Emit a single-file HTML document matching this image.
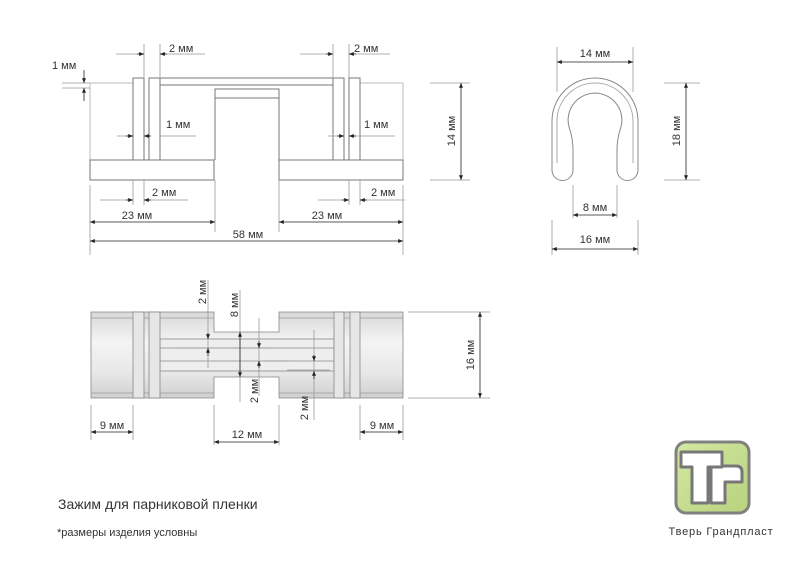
<!DOCTYPE html>
<html><head><meta charset="utf-8"><style>
html,body{margin:0;padding:0;background:#fff}
svg text{font-family:"Liberation Sans","DejaVu Sans",sans-serif;fill:#333}
</style></head><body>
<svg width="800" height="565" viewBox="0 0 800 565" xmlns="http://www.w3.org/2000/svg">
<defs>
<marker id="a" viewBox="0 0 6 6" refX="6" refY="3" markerWidth="6" markerHeight="6" orient="auto-start-reverse"><path d="M0,0.5L6,3L0,5.5z" fill="#222"/></marker>
<linearGradient id="g" x1="0" y1="0" x2="0" y2="1"><stop offset="0" stop-color="#d8d8d8"/><stop offset="0.35" stop-color="#f4f4f4"/><stop offset="0.7" stop-color="#e8e8e8"/><stop offset="1" stop-color="#d0d0d0"/></linearGradient>
<linearGradient id="lg" x1="0" y1="0" x2="1" y2="1"><stop offset="0" stop-color="#d3e8a2"/><stop offset="1" stop-color="#b8d27e"/></linearGradient>
</defs>
<g fill="none" stroke="#777" stroke-width="1">
<path d="M90,83V160M403,83V160M90,83H133M360,83H403" stroke="#bbb"/>
<rect x="90" y="160" width="124" height="20" fill="#fff"/>
<rect x="279" y="160" width="124" height="20" fill="#fff"/>
<rect x="133" y="78" width="11" height="82" fill="#fff"/>
<rect x="149" y="78" width="11" height="82" fill="#fff"/>
<rect x="333" y="78" width="11" height="82" fill="#fff"/>
<rect x="349" y="78" width="11" height="82" fill="#fff"/>
<rect x="160" y="78" width="173" height="7" fill="#fff"/>
<rect x="215" y="89" width="64" height="9" fill="#fff"/>
<path d="M215,98V160M279,98V160"/>
</g>
<g fill="none" stroke="#999" stroke-width="0.8">
<path d="M90,185V255M403,185V255M215,180V232M279,180V232M133,180V205M144,180V205M349,180V205M360,180V205"/>
<path d="M144,44V78M160,44V78M333,44V78M349,44V78"/>
<path d="M62,83H90M62,88H90"/>
<path d="M430,83H470M430,180H470"/>
<path d="M116,54H144M160,54H205M300,54H333M349,54H390"/>
<path d="M117,136H133M160,136H196M328,136H344M349,136H395"/>
<path d="M100,200H133M144,200H188M318,200H349M360,200H405"/>
</g>
<g stroke="#222" stroke-width="0.8" fill="none">
<path d="M137,54H144" marker-end="url(#a)"/><path d="M167,54H160" marker-end="url(#a)"/>
<path d="M326,54H333" marker-end="url(#a)"/><path d="M356,54H349" marker-end="url(#a)"/>
<path d="M126,136H133" marker-end="url(#a)"/><path d="M151,136H144" marker-end="url(#a)"/>
<path d="M337,136H344" marker-end="url(#a)"/><path d="M356,136H349" marker-end="url(#a)"/>
<path d="M126,200H133" marker-end="url(#a)"/><path d="M151,200H144" marker-end="url(#a)"/>
<path d="M342,200H349" marker-end="url(#a)"/><path d="M367,200H360" marker-end="url(#a)"/>
<path d="M84,70V83" marker-end="url(#a)"/><path d="M84,101V88" marker-end="url(#a)"/>
<path d="M90,222H215" marker-start="url(#a)" marker-end="url(#a)"/>
<path d="M279,222H403" marker-start="url(#a)" marker-end="url(#a)"/>
<path d="M90,241H403" marker-start="url(#a)" marker-end="url(#a)"/>
<path d="M461,83V180" marker-start="url(#a)" marker-end="url(#a)"/>
</g>
<g font-size="11">
<text x="52" y="69">1 мм</text>
<text x="169" y="52">2 мм</text>
<text x="354" y="52">2 мм</text>
<text x="166" y="128">1 мм</text>
<text x="364" y="128">1 мм</text>
<text x="152" y="196">2 мм</text>
<text x="371" y="196">2 мм</text>
<text x="137" y="219" text-anchor="middle">23 мм</text>
<text x="327" y="219" text-anchor="middle">23 мм</text>
<text x="248" y="238" text-anchor="middle">58 мм</text>
<text transform="translate(455,131) rotate(-90)" text-anchor="middle">14 мм</text>
</g>
<!-- side profile -->
<g fill="#fff" stroke="#888" stroke-width="1">
<path d="M552,170V121A43,43 0 0 1 638,121V170A10.5,10.5 0 0 1 617,170V150Q617,140 620,130A26.9,26.9 0 1 0 570,130Q573,140 573,150V170A10.5,10.5 0 0 1 552,170Z"/>
<path d="M557,163V121A38,38 0 0 1 633,121V163" fill="none" stroke="#aaa"/>
</g>
<g fill="none" stroke="#999" stroke-width="0.8">
<path d="M557,47V92M633,47V92M573,185V218M617,185V218M552,220V255M638,220V255M664,83H700M664,180H700"/>
</g>
<g stroke="#222" stroke-width="0.8" fill="none">
<path d="M557,62H633" marker-start="url(#a)" marker-end="url(#a)"/>
<path d="M573,215H617" marker-start="url(#a)" marker-end="url(#a)"/>
<path d="M552,249H638" marker-start="url(#a)" marker-end="url(#a)"/>
<path d="M686,83V180" marker-start="url(#a)" marker-end="url(#a)"/>
</g>
<g font-size="11">
<text x="595" y="57" text-anchor="middle">14 мм</text>
<text x="595" y="211" text-anchor="middle">8 мм</text>
<text x="595" y="243" text-anchor="middle">16 мм</text>
<text transform="translate(680,131) rotate(-90)" text-anchor="middle">18 мм</text>
</g>
<!-- bottom view -->
<g stroke="#888" stroke-width="0.8">
<path d="M91,312H214V332H279V312H403V398H279V377H214V398H91Z" fill="url(#g)"/>
<path d="M91,318H214M279,318H403M91,393H214M279,393H403" fill="none" stroke="#999"/>
<rect x="160" y="339" width="174" height="32" fill="#eee"/>
<path d="M160,348H334M160,361H334" fill="none"/>
<rect x="133" y="312" width="11" height="86" fill="#e6e6e6"/>
<rect x="149" y="312" width="11" height="86" fill="#e6e6e6"/>
<rect x="334" y="312" width="10" height="86" fill="#e6e6e6"/>
<rect x="350" y="312" width="10" height="86" fill="#e6e6e6"/>
</g>
<g fill="none" stroke="#999" stroke-width="0.8">
<path d="M208,280V368M240,290V402M259,318V396M314,330V420M183,339H222M232,348H272M178,348H210M265,361H290M287,370H330"/>
<path d="M91,405V440M133,405V440M214,405V445M279,405V445M360,405V440M403,405V440M408,312H490M408,398H490"/>
</g>
<g stroke="#222" stroke-width="0.8" fill="none">
<path d="M208,333V339" marker-end="url(#a)"/><path d="M208,356V348" marker-end="url(#a)"/>
<path d="M259,341V348" marker-end="url(#a)"/><path d="M259,368V361" marker-end="url(#a)"/>
<path d="M314,355V361" marker-end="url(#a)"/><path d="M314,379V371" marker-end="url(#a)"/>
<path d="M240,332V377" marker-start="url(#a)" marker-end="url(#a)"/>
<path d="M91,432H133" marker-start="url(#a)" marker-end="url(#a)"/>
<path d="M214,442H279" marker-start="url(#a)" marker-end="url(#a)"/>
<path d="M360,432H403" marker-start="url(#a)" marker-end="url(#a)"/>
<path d="M480,312V398" marker-start="url(#a)" marker-end="url(#a)"/>
</g>
<g font-size="11">
<text transform="translate(206,292) rotate(-90)" text-anchor="middle">2 мм</text>
<text transform="translate(238,305) rotate(-90)" text-anchor="middle">8 мм</text>
<text transform="translate(258,391) rotate(-90)" text-anchor="middle">2 мм</text>
<text transform="translate(308,408) rotate(-90)" text-anchor="middle">2 мм</text>
<text transform="translate(474,355) rotate(-90)" text-anchor="middle">16 мм</text>
<text x="112" y="429" text-anchor="middle">9 мм</text>
<text x="247" y="438" text-anchor="middle">12 мм</text>
<text x="382" y="429" text-anchor="middle">9 мм</text>
</g>
<text x="58" y="509" font-size="14" fill="#222">Зажим для парниковой пленки</text>
<text x="57" y="536" font-size="11" fill="#222">*размеры изделия условны</text>
<!-- logo -->
<rect x="676" y="442" width="73" height="71" rx="10" fill="url(#lg)" stroke="#808080" stroke-width="3"/>
<path d="M711,503V466H736Q742,466 742,472V482H725V503Z" fill="#fff" stroke="#777" stroke-width="3" stroke-linejoin="round"/>
<path d="M681,452H722V467H708V503H692V467H681Z" fill="#fff" stroke="#777" stroke-width="3" stroke-linejoin="round"/>
<text x="721" y="535" font-size="11" text-anchor="middle" fill="#666" letter-spacing="0.8">Тверь Грандпласт</text>
</svg>
</body></html>
